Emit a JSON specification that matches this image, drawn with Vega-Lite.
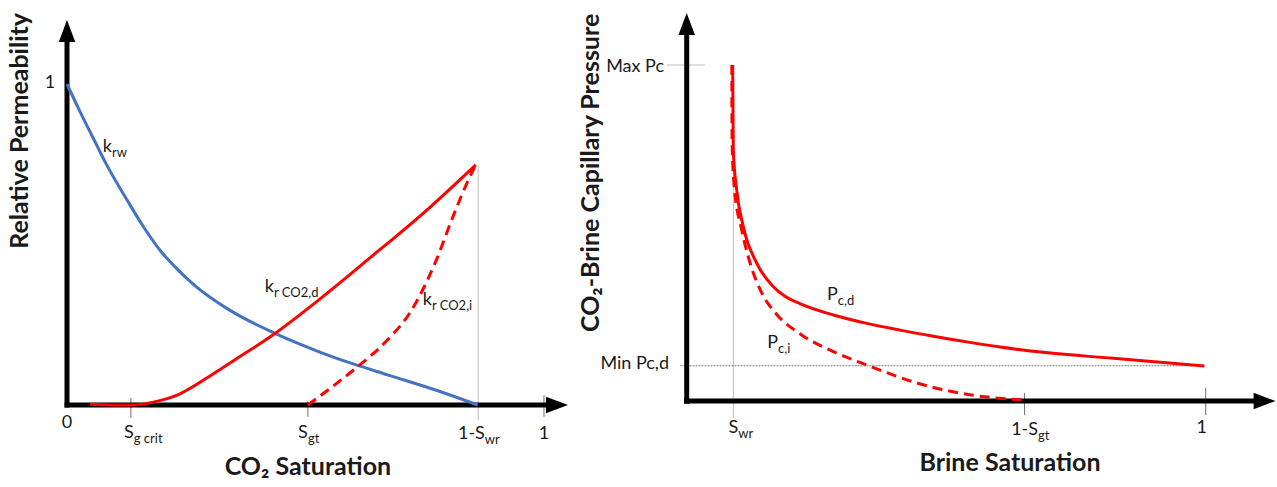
{
  "$schema": "https://vega.github.io/schema/vega-lite/v6.json",
  "bounds": "flush",
  "padding": 0,
  "spacing": 0,
  "background": "white",
  "config": {
    "view": {"stroke": null},
    "text": {"font": "Lato", "color": "#1a1a1a"}
  },
  "datasets": {
    "krw": [
      {"i": 0, "x": 0, "y": 1.0}, {"i": 1, "x": 0.0273, "y": 0.914}, {"i": 2, "x": 0.0551, "y": 0.831},
      {"i": 3, "x": 0.0832, "y": 0.748}, {"i": 4, "x": 0.125, "y": 0.641}, {"i": 5, "x": 0.16, "y": 0.556},
      {"i": 6, "x": 0.195, "y": 0.482}, {"i": 7, "x": 0.23, "y": 0.425}, {"i": 8, "x": 0.265, "y": 0.376},
      {"i": 9, "x": 0.335, "y": 0.301}, {"i": 10, "x": 0.436, "y": 0.223}, {"i": 11, "x": 0.53, "y": 0.165},
      {"i": 12, "x": 0.6, "y": 0.128}, {"i": 13, "x": 0.672, "y": 0.094}, {"i": 14, "x": 0.782, "y": 0.042},
      {"i": 15, "x": 0.861, "y": 0.0}
    ],
    "krd": [
      {"i": 0, "x": 0.048, "y": 0.002}, {"i": 1, "x": 0.09, "y": 0.0}, {"i": 2, "x": 0.136, "y": 0.0},
      {"i": 3, "x": 0.181, "y": 0.009}, {"i": 4, "x": 0.21, "y": 0.02}, {"i": 5, "x": 0.237, "y": 0.035},
      {"i": 6, "x": 0.265, "y": 0.058}, {"i": 7, "x": 0.293, "y": 0.084}, {"i": 8, "x": 0.349, "y": 0.138},
      {"i": 9, "x": 0.436, "y": 0.223}, {"i": 10, "x": 0.53, "y": 0.33}, {"i": 11, "x": 0.63, "y": 0.452},
      {"i": 12, "x": 0.758, "y": 0.612}, {"i": 13, "x": 0.857, "y": 0.748}
    ],
    "kri": [
      {"i": 0, "x": 0.505, "y": 0.0}, {"i": 1, "x": 0.55, "y": 0.05}, {"i": 2, "x": 0.604, "y": 0.113},
      {"i": 3, "x": 0.67, "y": 0.2}, {"i": 4, "x": 0.72, "y": 0.29}, {"i": 5, "x": 0.771, "y": 0.44},
      {"i": 6, "x": 0.81, "y": 0.59}, {"i": 7, "x": 0.838, "y": 0.69}, {"i": 8, "x": 0.857, "y": 0.748}
    ],
    "pcd": [
      {"i": 0, "x": 0.0886, "y": 1.0}, {"i": 1, "x": 0.0889, "y": 0.93}, {"i": 2, "x": 0.0892, "y": 0.866},
      {"i": 3, "x": 0.0898, "y": 0.747}, {"i": 4, "x": 0.0963, "y": 0.628}, {"i": 5, "x": 0.109, "y": 0.519},
      {"i": 6, "x": 0.135, "y": 0.41}, {"i": 7, "x": 0.167, "y": 0.34}, {"i": 8, "x": 0.19, "y": 0.311},
      {"i": 9, "x": 0.218, "y": 0.29}, {"i": 10, "x": 0.2825, "y": 0.256}, {"i": 11, "x": 0.347, "y": 0.231},
      {"i": 12, "x": 0.411, "y": 0.211}, {"i": 13, "x": 0.475, "y": 0.193}, {"i": 14, "x": 0.5395, "y": 0.176},
      {"i": 15, "x": 0.604, "y": 0.161}, {"i": 16, "x": 0.651, "y": 0.151}, {"i": 17, "x": 0.822, "y": 0.127},
      {"i": 18, "x": 0.9975, "y": 0.104}
    ],
    "pci": [
      {"i": 0, "x": 0.087, "y": 1.0}, {"i": 1, "x": 0.0871, "y": 0.896}, {"i": 2, "x": 0.0875, "y": 0.768},
      {"i": 3, "x": 0.0915, "y": 0.64}, {"i": 4, "x": 0.106, "y": 0.509}, {"i": 5, "x": 0.1187, "y": 0.429},
      {"i": 6, "x": 0.1476, "y": 0.313}, {"i": 7, "x": 0.171, "y": 0.262}, {"i": 8, "x": 0.218, "y": 0.2},
      {"i": 9, "x": 0.2825, "y": 0.147}, {"i": 10, "x": 0.347, "y": 0.107}, {"i": 11, "x": 0.445, "y": 0.053},
      {"i": 12, "x": 0.548, "y": 0.018}, {"i": 13, "x": 0.651, "y": 0.003}
    ],
    "leftAxes": [
      {"x": 0, "y": -0.008, "x2": 0, "y2": 1.165},
      {"x": -0.005, "y": 0, "x2": 1.027, "y2": 0}
    ],
    "leftArrowR": [{"x": 1.0273, "y": 0}],
    "leftArrowU": [{"x": 0, "y": 1.165}],
    "leftLight": [{"x": 0.862, "y": 0.748, "x2": 0.862, "y2": -0.047}],
    "leftTicks": [
      {"x": 0.134, "y": 0.022, "x2": 0.134, "y2": -0.04},
      {"x": 0.505, "y": 0.012, "x2": 0.505, "y2": -0.037},
      {"x": 1.0, "y": 0.031, "x2": 1.0, "y2": -0.037}
    ],
    "leftMain": [
      {"x": 0.14, "y": -0.087, "t": "S"},
      {"x": 0.505, "y": -0.087, "t": "S"},
      {"x": 0.876, "y": -0.09, "t": "1-S"},
      {"x": 0.0943, "y": 0.804, "t": "k"},
      {"x": 0.434, "y": 0.368, "t": "k"},
      {"x": 0.765, "y": 0.327, "t": "k"}
    ],
    "leftSub": [
      {"x": 0.14, "y": -0.087, "t": "g crit"},
      {"x": 0.505, "y": -0.087, "t": "gt"},
      {"x": 0.876, "y": -0.09, "t": "wr"},
      {"x": 0.0943, "y": 0.804, "t": "rw"},
      {"x": 0.434, "y": 0.368, "t": "r CO2,d"},
      {"x": 0.765, "y": 0.327, "t": "r CO2,i"}
    ],
    "leftCenter": [
      {"x": 0, "y": -0.056, "t": "0"},
      {"x": 1.0, "y": -0.089, "t": "1"},
      {"x": -0.0356, "y": 1.003, "t": "1"}
    ],
    "leftTitleX": [{"x": 0.505, "y": -0.192, "t": "CO₂ Saturation"}],
    "leftTitleY": [{"x": -0.0985, "y": 0.854, "t": "Relative Permeability"}],
    "rightAxes": [
      {"x": 0, "y": -0.008, "x2": 0, "y2": 1.122},
      {"x": -0.005, "y": 0, "x2": 1.1135, "y2": 0}
    ],
    "rightArrowR": [{"x": 1.1135, "y": 0}],
    "rightArrowU": [{"x": 0, "y": 1.122}],
    "rightLight": [
      {"x": -0.038, "y": 1.0, "x2": 0.035, "y2": 1.0},
      {"x": 0.09, "y": 1.0, "x2": 0.09, "y2": -0.05}
    ],
    "rightDotted": [{"x": -0.012, "y": 0.105, "x2": 0.9975, "y2": 0.105}],
    "rightTicks": [
      {"x": 0.651, "y": 0.024, "x2": 0.651, "y2": -0.042},
      {"x": 1.0, "y": 0.039, "x2": 1.0, "y2": -0.042}
    ],
    "rightMain": [
      {"x": -0.0437, "y": 0.994, "t": "Max Pc"},
      {"x": -0.034, "y": 0.11, "t": "Min Pc,d"},
      {"x": 0.0994, "y": -0.08, "t": "S"},
      {"x": 0.677, "y": -0.086, "t": "1-S"},
      {"x": 0.291, "y": 0.315, "t": "P"},
      {"x": 0.176, "y": 0.173, "t": "P"}
    ],
    "rightSub": [
      {"x": 0.0994, "y": -0.08, "t": "wr"},
      {"x": 0.677, "y": -0.086, "t": "gt"},
      {"x": 0.291, "y": 0.315, "t": "c,d"},
      {"x": 0.176, "y": 0.173, "t": "c,i"}
    ],
    "rightCenter": [{"x": 0.9925, "y": -0.08, "t": "1"}],
    "rightTitleX": [{"x": 0.623, "y": -0.186, "t": "Brine Saturation"}],
    "rightTitleY": [{"x": -0.184, "y": 0.679, "t": "CO₂-Brine Capillary Pressure"}]
  },
  "hconcat": [
    {
      "width": 575,
      "height": 487,
      "encoding": {
        "x": {"field": "x", "type": "quantitative", "scale": {"domain": [-0.14046, 1.06499], "nice": false, "zero": false}, "axis": null},
        "y": {"field": "y", "type": "quantitative", "scale": {"domain": [-0.25545, 1.26168], "nice": false, "zero": false}, "axis": null}
      },
      "layer": [
        {"data": {"name": "leftLight"}, "mark": {"type": "rule", "color": "#bdbdbd", "strokeWidth": 1}, "encoding": {"x2": {"field": "x2"}, "y2": {"field": "y2"}}},
        {"data": {"name": "leftTicks"}, "mark": {"type": "rule", "color": "#6e6e6e", "strokeWidth": 1}, "encoding": {"x2": {"field": "x2"}, "y2": {"field": "y2"}}},
        {"data": {"name": "leftAxes"}, "mark": {"type": "rule", "color": "black", "strokeWidth": 5}, "encoding": {"x2": {"field": "x2"}, "y2": {"field": "y2"}}},
        {"data": {"name": "leftArrowR"}, "mark": {"type": "point", "shape": "M-1,-0.75L1,0L-1,0.75Z", "size": 484, "filled": true, "color": "black", "opacity": 1, "strokeWidth": 0}},
        {"data": {"name": "leftArrowU"}, "mark": {"type": "point", "shape": "M-0.75,1L0,-1L0.75,1Z", "size": 484, "filled": true, "color": "black", "opacity": 1, "strokeWidth": 0}},
        {"data": {"name": "krw"}, "mark": {"type": "line", "color": "#4472c4", "strokeWidth": 3, "interpolate": "monotone"}, "encoding": {"order": {"field": "i"}}},
        {"data": {"name": "krd"}, "mark": {"type": "line", "color": "#ff0000", "strokeWidth": 3, "interpolate": "monotone"}, "encoding": {"order": {"field": "i"}}},
        {"data": {"name": "kri"}, "mark": {"type": "line", "color": "#ff0000", "strokeWidth": 3, "strokeDash": [10, 6], "interpolate": "monotone"}, "encoding": {"order": {"field": "i"}}},
        {"data": {"name": "leftMain"}, "mark": {"type": "text", "fontSize": 18, "align": "right", "baseline": "middle"}, "encoding": {"text": {"field": "t"}}},
        {"data": {"name": "leftSub"}, "mark": {"type": "text", "fontSize": 13, "align": "left", "baseline": "middle", "dy": 6}, "encoding": {"text": {"field": "t"}}},
        {"data": {"name": "leftCenter"}, "mark": {"type": "text", "fontSize": 18, "align": "center", "baseline": "middle"}, "encoding": {"text": {"field": "t"}}},
        {"data": {"name": "leftTitleX"}, "mark": {"type": "text", "fontSize": 25, "fontWeight": "bold", "align": "center", "baseline": "middle"}, "encoding": {"text": {"field": "t"}}},
        {"data": {"name": "leftTitleY"}, "mark": {"type": "text", "fontSize": 25, "fontWeight": "bold", "align": "center", "baseline": "middle", "angle": 270}, "encoding": {"text": {"field": "t"}}}
      ]
    },
    {
      "width": 702,
      "height": 487,
      "encoding": {
        "x": {"field": "x", "type": "quantitative", "scale": {"domain": [-0.21522, 1.13738], "nice": false, "zero": false}, "axis": null},
        "y": {"field": "y", "type": "quantitative", "scale": {"domain": [-0.25595, 1.19345], "nice": false, "zero": false}, "axis": null}
      },
      "layer": [
        {"data": {"name": "rightLight"}, "mark": {"type": "rule", "color": "#bdbdbd", "strokeWidth": 1}, "encoding": {"x2": {"field": "x2"}, "y2": {"field": "y2"}}},
        {"data": {"name": "rightDotted"}, "mark": {"type": "rule", "color": "#7a7a7a", "strokeWidth": 1, "strokeDash": [2, 1]}, "encoding": {"x2": {"field": "x2"}, "y2": {"field": "y2"}}},
        {"data": {"name": "rightTicks"}, "mark": {"type": "rule", "color": "#6e6e6e", "strokeWidth": 1}, "encoding": {"x2": {"field": "x2"}, "y2": {"field": "y2"}}},
        {"data": {"name": "rightAxes"}, "mark": {"type": "rule", "color": "black", "strokeWidth": 5}, "encoding": {"x2": {"field": "x2"}, "y2": {"field": "y2"}}},
        {"data": {"name": "rightArrowR"}, "mark": {"type": "point", "shape": "M-1,-0.75L1,0L-1,0.75Z", "size": 484, "filled": true, "color": "black", "opacity": 1, "strokeWidth": 0}},
        {"data": {"name": "rightArrowU"}, "mark": {"type": "point", "shape": "M-0.75,1L0,-1L0.75,1Z", "size": 484, "filled": true, "color": "black", "opacity": 1, "strokeWidth": 0}},
        {"data": {"name": "pcd"}, "mark": {"type": "line", "color": "#ff0000", "strokeWidth": 3, "interpolate": "monotone"}, "encoding": {"order": {"field": "i"}}},
        {"data": {"name": "pci"}, "mark": {"type": "line", "color": "#ff0000", "strokeWidth": 3, "strokeDash": [10, 6], "interpolate": "monotone"}, "encoding": {"order": {"field": "i"}}},
        {"data": {"name": "rightMain"}, "mark": {"type": "text", "fontSize": 18, "align": "right", "baseline": "middle"}, "encoding": {"text": {"field": "t"}}},
        {"data": {"name": "rightSub"}, "mark": {"type": "text", "fontSize": 13, "align": "left", "baseline": "middle", "dy": 6}, "encoding": {"text": {"field": "t"}}},
        {"data": {"name": "rightCenter"}, "mark": {"type": "text", "fontSize": 18, "align": "center", "baseline": "middle"}, "encoding": {"text": {"field": "t"}}},
        {"data": {"name": "rightTitleX"}, "mark": {"type": "text", "fontSize": 25, "fontWeight": "bold", "align": "center", "baseline": "middle"}, "encoding": {"text": {"field": "t"}}},
        {"data": {"name": "rightTitleY"}, "mark": {"type": "text", "fontSize": 25, "fontWeight": "bold", "align": "center", "baseline": "middle", "angle": 270}, "encoding": {"text": {"field": "t"}}}
      ]
    }
  ]
}
